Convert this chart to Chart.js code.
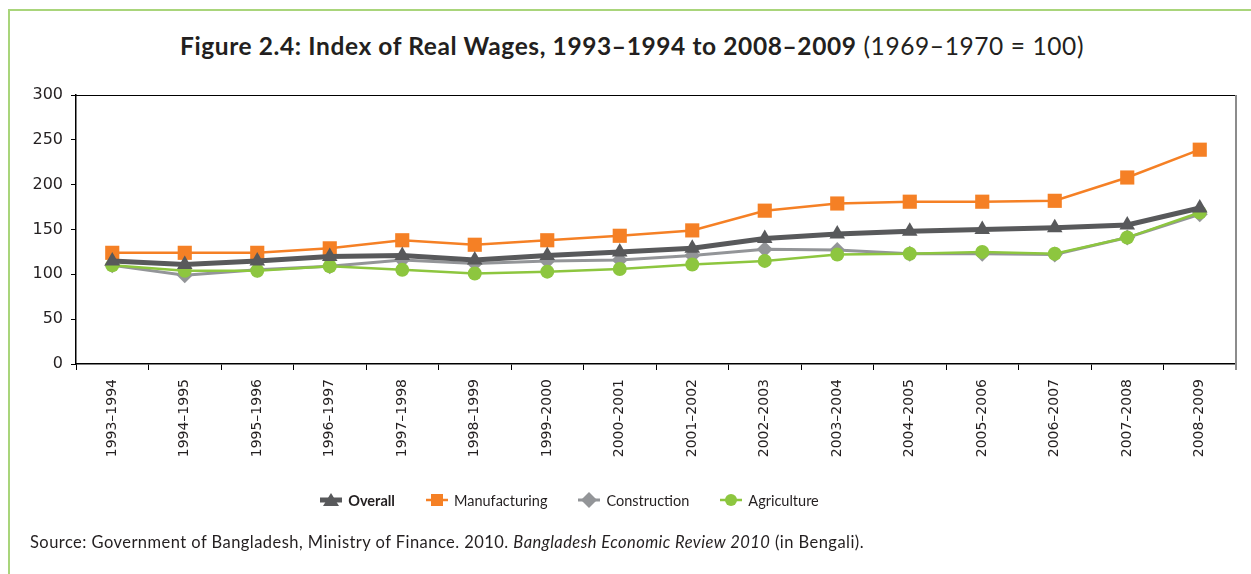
<!DOCTYPE html>
<html lang="en">
<head>
    <meta charset="UTF-8">
    <title>Figure 2.4: Index of Real Wages</title>
    <script src="https://cdn.jsdelivr.net/npm/chart.js"></script>
    <style>
        html, body {
            margin: 0;
            padding: 0;
            background: #fff;
        }

        .page {
            position: relative;
            width: 1251px;
            height: 574px;
            overflow: hidden;
            font-family: Lato, "Open Sans", sans-serif;
            color: #231f20;
        }

        .frame-top {
            position: absolute;
            left: 8px;
            top: 9px;
            width: 1243px;
            height: 2px;
            background: #a9d57b;
        }

        .frame-left {
            position: absolute;
            left: 8px;
            top: 9px;
            width: 2px;
            height: 565px;
            background: #a9d57b;
        }

        .chart-title {
            position: absolute;
            left: 0;
            top: 31px;
            width: 1264px;
            text-align: center;
            font-size: 24.5px;
            letter-spacing: 0.6px;
            white-space: nowrap;
        }

        .chart-title b {
            font-weight: 700;
        }

        .chart-box {
            position: absolute;
            left: 0;
            top: 0;
            width: 1251px;
            height: 574px;
        }

        .legend {
            position: absolute;
            left: 0;
            top: 491px;
            width: 1139px;
            display: flex;
            justify-content: center;
            gap: 31px;
            font-size: 14.5px;
        }

        .legend-item {
            display: flex;
            align-items: center;
            gap: 6px;
        }

        .legend-item.bold {
            font-weight: 700;
        }

        .source {
            position: absolute;
            left: 30px;
            top: 532px;
            font-size: 16.5px;
            letter-spacing: 0.45px;
            white-space: nowrap;
        }
    </style>
</head>
<body>
    <div class="page">
        <div class="frame-top"></div>
        <div class="frame-left"></div>
        <div class="chart-title"><b>Figure 2.4: Index of Real Wages, 1993–1994 to 2008–2009</b> (1969–1970 = 100)</div>
        <div class="chart-box">
            <canvas id="wagesChart"></canvas>
        </div>
        <div class="legend" id="legend"></div>
        <div class="source">Source: Government of Bangladesh, Ministry of Finance. 2010. <i>Bangladesh Economic Review 2010</i> (in Bengali).</div>
    </div>

    <script>
        // данные
        const years = ['1993–1994', '1994–1995', '1995–1996', '1996–1997', '1997–1998', '1998–1999',
            '1999–2000', '2000–2001', '2001–2002', '2002–2003', '2003–2004', '2004–2005',
            '2005–2006', '2006–2007', '2007–2008', '2008–2009'];
        const overall = [115, 111, 115, 120, 121, 116, 121, 125, 129, 140, 145, 148, 150, 152, 155, 174];
        const manufacturing = [124, 124, 124, 129, 138, 133, 138, 143, 149, 171, 179, 181, 181, 182, 208, 239];
        const construction = [110, 99, 105, 109, 116, 112, 115, 116, 121, 128, 127, 123, 123, 122, 141, 167];
        const agriculture = [110, 104, 104, 109, 105, 101, 103, 106, 111, 115, 122, 123, 125, 123, 141, 169];
        const yTicks = [0, 50, 100, 150, 200, 250, 300];

        const colors = {
            overall: '#58595b',
            manufacturing: '#f58025',
            construction: '#939598',
            agriculture: '#8dc63f'
        };

        // рамка сверху и справа от области графика
        const plotFrame = {
            id: 'plotFrame',
            afterDraw(chart) {
                const { ctx, chartArea } = chart;
                ctx.save();
                ctx.lineWidth = 1;
                ctx.strokeStyle = '#000';
                ctx.beginPath();
                ctx.moveTo(chartArea.left, chartArea.top + 0.5);
                ctx.lineTo(chartArea.right, chartArea.top + 0.5);
                ctx.stroke();
                ctx.strokeStyle = '#8c8c8c';
                ctx.lineWidth = 2;
                ctx.beginPath();
                ctx.moveTo(chartArea.right, chartArea.top);
                ctx.lineTo(chartArea.right, chartArea.bottom + 6);
                ctx.stroke();
                ctx.restore();
            }
        };

        const datasets = [{
            label: 'Overall',
            data: overall,
            borderColor: colors.overall,
            backgroundColor: colors.overall,
            borderWidth: 5,
            pointStyle: 'triangle',
            pointRadius: 9,
            pointBorderWidth: 0,
            order: 0
        }, {
            label: 'Manufacturing',
            data: manufacturing,
            borderColor: colors.manufacturing,
            backgroundColor: colors.manufacturing,
            borderWidth: 2.5,
            pointStyle: 'rect',
            pointRadius: 10,
            pointBorderWidth: 0,
            order: 3
        }, {
            label: 'Construction',
            data: construction,
            borderColor: colors.construction,
            backgroundColor: colors.construction,
            borderWidth: 3,
            pointStyle: 'rectRot',
            pointRadius: 8,
            pointBorderWidth: 0,
            order: 2
        }, {
            label: 'Agriculture',
            data: agriculture,
            borderColor: colors.agriculture,
            backgroundColor: colors.agriculture,
            borderWidth: 2.5,
            pointStyle: 'circle',
            pointRadius: 7,
            pointBorderWidth: 0,
            order: 1
        }];

        new Chart(document.getElementById('wagesChart'), {
            type: 'line',
            data: {
                labels: years,
                datasets: datasets
            },
            options: {
                responsive: true,
                maintainAspectRatio: false,
                animation: false,
                layout: {
                    padding: { left: 8, top: 95, right: 15, bottom: 104 }
                },
                plugins: {
                    legend: { display: false },
                    tooltip: { enabled: false }
                },
                elements: {
                    line: { tension: 0 }
                },
                scales: {
                    x: {
                        offset: true,
                        grid: {
                            offset: true,
                            drawOnChartArea: false,
                            drawTicks: true,
                            tickLength: 6,
                            color: '#000'
                        },
                        border: { color: '#000', width: 1.5 },
                        ticks: {
                            minRotation: 90,
                            maxRotation: 90,
                            autoSkip: false,
                            padding: 9,
                            color: '#231f20',
                            font: { family: 'DejaVu Sans', size: 14 }
                        },
                        afterFit(scale) {
                            scale.height = 106;
                        }
                    },
                    y: {
                        min: 0,
                        max: 300,
                        afterBuildTicks(scale) {
                            scale.ticks = yTicks.map(v => ({ value: v }));
                        },
                        grid: {
                            drawOnChartArea: false,
                            drawTicks: true,
                            tickLength: 5,
                            color: '#000'
                        },
                        border: { color: '#000', width: 1.5 },
                        ticks: {
                            padding: 8,
                            color: '#231f20',
                            font: { family: 'DejaVu Sans', size: 16 }
                        },
                        afterFit(scale) {
                            scale.width = 68;
                        }
                    }
                }
            },
            plugins: [plotFrame]
        });

        // легенда: линия с маркером
        function legendIcon(ds) {
            const c = ds.borderColor;
            const lw = ds.borderWidth;
            let marker = '';
            if (ds.pointStyle === 'triangle') {
                marker = `<polygon points="11,2 19,15 3,15" fill="${c}"/>`;
            } else if (ds.pointStyle === 'rect') {
                marker = `<rect x="5" y="3" width="12" height="12" fill="${c}"/>`;
            } else if (ds.pointStyle === 'rectRot') {
                marker = `<polygon points="11,1 19,9 11,17 3,9" fill="${c}"/>`;
            } else {
                marker = `<circle cx="11" cy="9" r="6" fill="${c}"/>`;
            }
            return `<svg width="22" height="18" viewBox="0 0 22 18">` +
                `<line x1="0" y1="9" x2="22" y2="9" stroke="${c}" stroke-width="${lw}"/>` +
                marker + `</svg>`;
        }

        const legendEl = document.getElementById('legend');
        datasets.forEach((ds, i) => {
            const item = document.createElement('div');
            item.className = 'legend-item' + (i === 0 ? ' bold' : '');
            item.innerHTML = legendIcon(ds) + '<span>' + ds.label + '</span>';
            legendEl.appendChild(item);
        });
    </script>
</body>
</html>
